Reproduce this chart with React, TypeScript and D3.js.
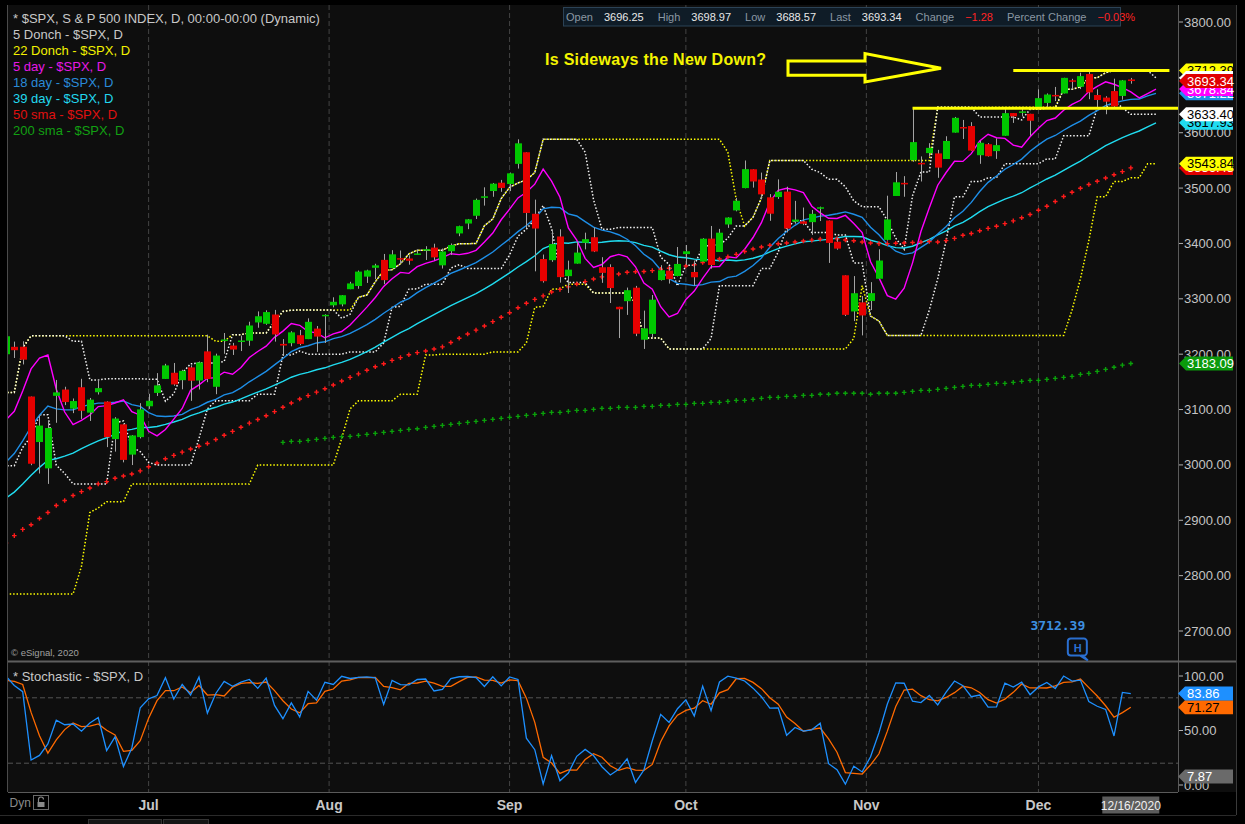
import { useEffect } from "react";
import * as d3 from "d3";

type Bar = [string, number, number, number, number];

// S&P 500 daily bars: date, open, high, low, close
const spxDaily: Bar[] = [
  ["2020-05-06", 2883.14, 2891.11, 2847.65, 2848.42],
  ["2020-05-07", 2878.26, 2901.92, 2876.48, 2881.19],
  ["2020-05-08", 2908.83, 2932.16, 2902.88, 2929.8],
  ["2020-05-11", 2915.46, 2944.25, 2903.44, 2930.19],
  ["2020-05-12", 2939.5, 2945.82, 2869.59, 2870.12],
  ["2020-05-13", 2865.86, 2874.14, 2793.15, 2820.0],
  ["2020-05-14", 2794.54, 2852.8, 2766.64, 2852.5],
  ["2020-05-15", 2829.95, 2865.01, 2816.78, 2863.7],
  ["2020-05-18", 2913.86, 2968.09, 2913.86, 2953.91],
  ["2020-05-19", 2948.59, 2964.21, 2922.35, 2922.94],
  ["2020-05-20", 2953.63, 2980.29, 2953.63, 2971.61],
  ["2020-05-21", 2969.95, 2978.5, 2938.57, 2948.51],
  ["2020-05-22", 2948.05, 2956.76, 2933.59, 2955.45],
  ["2020-05-26", 3004.08, 3021.72, 2988.17, 2991.77],
  ["2020-05-27", 3015.65, 3036.25, 2969.75, 3036.13],
  ["2020-05-28", 3046.61, 3068.67, 3023.4, 3029.73],
  ["2020-05-29", 3025.17, 3049.17, 2998.61, 3044.31],
  ["2020-06-01", 3031.68, 3062.18, 3031.54, 3055.73],
  ["2020-06-02", 3064.78, 3081.07, 3051.64, 3080.82],
  ["2020-06-03", 3098.9, 3130.94, 3098.9, 3122.87],
  ["2020-06-04", 3111.56, 3128.91, 3090.41, 3112.35],
  ["2020-06-05", 3163.84, 3211.72, 3163.84, 3193.93],
  ["2020-06-08", 3199.92, 3233.13, 3196.0, 3232.39],
  ["2020-06-09", 3213.32, 3222.71, 3193.11, 3207.18],
  ["2020-06-10", 3213.42, 3223.27, 3181.49, 3190.14],
  ["2020-06-11", 3123.53, 3123.53, 2999.49, 3002.1],
  ["2020-06-12", 3071.04, 3088.42, 2984.47, 3041.31],
  ["2020-06-15", 2993.76, 3079.76, 2965.66, 3066.59],
  ["2020-06-16", 3131.0, 3153.45, 3076.06, 3124.74],
  ["2020-06-17", 3136.13, 3141.16, 3108.03, 3113.49],
  ["2020-06-18", 3101.64, 3120.0, 3093.51, 3115.34],
  ["2020-06-19", 3140.29, 3155.53, 3083.11, 3097.74],
  ["2020-06-22", 3094.42, 3120.92, 3079.39, 3117.86],
  ["2020-06-23", 3138.7, 3154.9, 3127.12, 3131.29],
  ["2020-06-24", 3114.4, 3115.01, 3032.13, 3050.33],
  ["2020-06-25", 3046.6, 3086.25, 3024.01, 3083.76],
  ["2020-06-26", 3073.2, 3073.73, 3004.63, 3009.05],
  ["2020-06-29", 3018.59, 3053.89, 2999.74, 3053.24],
  ["2020-06-30", 3050.2, 3111.51, 3047.83, 3100.29],
  ["2020-07-01", 3105.92, 3128.44, 3101.17, 3115.86],
  ["2020-07-02", 3143.64, 3165.81, 3124.52, 3130.01],
  ["2020-07-06", 3155.29, 3182.59, 3155.29, 3179.72],
  ["2020-07-07", 3166.44, 3184.15, 3142.93, 3145.32],
  ["2020-07-08", 3153.07, 3171.8, 3136.53, 3169.94],
  ["2020-07-09", 3176.17, 3179.78, 3115.7, 3152.05],
  ["2020-07-10", 3152.47, 3186.82, 3136.22, 3185.04],
  ["2020-07-13", 3205.08, 3235.32, 3149.43, 3155.22],
  ["2020-07-14", 3141.11, 3200.95, 3127.66, 3197.52],
  ["2020-07-15", 3225.98, 3238.28, 3200.76, 3226.56],
  ["2020-07-16", 3208.36, 3220.39, 3198.59, 3215.57],
  ["2020-07-17", 3224.21, 3233.52, 3205.65, 3224.73],
  ["2020-07-20", 3224.29, 3258.61, 3215.16, 3251.84],
  ["2020-07-21", 3268.52, 3277.29, 3247.77, 3257.3],
  ["2020-07-22", 3254.86, 3279.32, 3253.1, 3276.02],
  ["2020-07-23", 3271.64, 3279.99, 3222.66, 3235.66],
  ["2020-07-24", 3218.58, 3227.26, 3200.05, 3215.63],
  ["2020-07-27", 3219.84, 3241.43, 3214.25, 3239.41],
  ["2020-07-28", 3234.27, 3243.72, 3216.17, 3218.44],
  ["2020-07-29", 3227.22, 3264.74, 3227.22, 3258.44],
  ["2020-07-30", 3231.76, 3250.92, 3204.13, 3246.22],
  ["2020-07-31", 3270.45, 3272.17, 3220.26, 3271.12],
  ["2020-08-03", 3288.26, 3302.73, 3284.53, 3294.61],
  ["2020-08-04", 3289.92, 3306.84, 3286.37, 3306.51],
  ["2020-08-05", 3317.37, 3330.77, 3317.37, 3327.77],
  ["2020-08-06", 3323.17, 3351.03, 3318.14, 3349.16],
  ["2020-08-07", 3340.05, 3352.54, 3328.72, 3351.28],
  ["2020-08-10", 3356.04, 3363.29, 3335.44, 3360.47],
  ["2020-08-11", 3370.34, 3381.01, 3326.44, 3333.69],
  ["2020-08-12", 3355.46, 3387.89, 3355.46, 3380.35],
  ["2020-08-13", 3372.95, 3387.24, 3363.35, 3373.43],
  ["2020-08-14", 3368.66, 3378.51, 3361.64, 3372.85],
  ["2020-08-17", 3380.86, 3387.59, 3379.22, 3381.99],
  ["2020-08-18", 3387.04, 3395.06, 3370.15, 3389.78],
  ["2020-08-19", 3392.51, 3399.54, 3369.66, 3374.85],
  ["2020-08-20", 3360.48, 3390.8, 3354.69, 3385.51],
  ["2020-08-21", 3386.01, 3399.96, 3379.31, 3397.16],
  ["2020-08-24", 3418.09, 3432.09, 3413.13, 3431.28],
  ["2020-08-25", 3435.95, 3444.21, 3425.84, 3443.62],
  ["2020-08-26", 3449.97, 3481.07, 3444.15, 3478.73],
  ["2020-08-27", 3485.14, 3501.38, 3468.35, 3484.55],
  ["2020-08-28", 3494.69, 3509.23, 3484.32, 3508.01],
  ["2020-08-31", 3509.73, 3514.77, 3493.25, 3500.31],
  ["2020-09-01", 3507.44, 3528.03, 3494.6, 3526.65],
  ["2020-09-02", 3543.76, 3588.11, 3535.23, 3580.84],
  ["2020-09-03", 3564.74, 3564.85, 3427.41, 3455.06],
  ["2020-09-04", 3453.6, 3479.15, 3349.63, 3426.96],
  ["2020-09-08", 3371.88, 3379.97, 3329.27, 3331.84],
  ["2020-09-09", 3369.82, 3424.77, 3366.84, 3398.96],
  ["2020-09-10", 3412.56, 3425.55, 3329.25, 3339.19],
  ["2020-09-11", 3352.7, 3368.95, 3310.47, 3340.97],
  ["2020-09-14", 3363.56, 3402.93, 3363.56, 3383.54],
  ["2020-09-15", 3407.73, 3419.48, 3389.25, 3401.2],
  ["2020-09-16", 3411.23, 3428.92, 3384.45, 3385.49],
  ["2020-09-17", 3346.86, 3375.17, 3328.82, 3357.01],
  ["2020-09-18", 3357.38, 3362.27, 3292.4, 3319.47],
  ["2020-09-21", 3285.57, 3285.57, 3229.1, 3281.06],
  ["2020-09-22", 3295.75, 3320.31, 3270.95, 3315.57],
  ["2020-09-23", 3320.11, 3323.35, 3232.57, 3236.92],
  ["2020-09-24", 3226.14, 3278.7, 3209.45, 3246.59],
  ["2020-09-25", 3236.66, 3306.88, 3228.44, 3298.46],
  ["2020-09-28", 3333.9, 3360.74, 3332.91, 3351.6],
  ["2020-09-29", 3350.92, 3357.92, 3327.54, 3335.47],
  ["2020-09-30", 3341.21, 3393.56, 3340.47, 3363.0],
  ["2020-10-01", 3385.87, 3397.18, 3361.39, 3380.8],
  ["2020-10-02", 3338.94, 3369.1, 3323.69, 3348.42],
  ["2020-10-05", 3367.27, 3409.57, 3367.27, 3408.6],
  ["2020-10-06", 3408.74, 3431.56, 3354.54, 3360.97],
  ["2020-10-07", 3384.56, 3426.26, 3384.56, 3419.44],
  ["2020-10-08", 3434.28, 3447.28, 3428.15, 3446.83],
  ["2020-10-09", 3459.67, 3482.34, 3458.07, 3477.14],
  ["2020-10-12", 3500.02, 3549.85, 3499.61, 3534.22],
  ["2020-10-13", 3534.01, 3534.01, 3500.86, 3511.93],
  ["2020-10-14", 3515.47, 3527.94, 3480.55, 3488.67],
  ["2020-10-15", 3453.72, 3489.08, 3440.89, 3483.34],
  ["2020-10-16", 3493.5, 3515.76, 3480.45, 3483.81],
  ["2020-10-19", 3493.66, 3502.42, 3419.93, 3426.92],
  ["2020-10-20", 3439.38, 3476.93, 3435.65, 3443.12],
  ["2020-10-21", 3439.91, 3464.86, 3433.06, 3435.56],
  ["2020-10-22", 3438.5, 3460.53, 3415.34, 3453.49],
  ["2020-10-23", 3464.9, 3466.46, 3440.45, 3465.39],
  ["2020-10-26", 3441.42, 3441.42, 3364.86, 3400.97],
  ["2020-10-27", 3403.15, 3409.51, 3388.71, 3390.68],
  ["2020-10-28", 3342.48, 3342.48, 3268.89, 3271.03],
  ["2020-10-29", 3277.17, 3341.05, 3259.82, 3310.11],
  ["2020-10-30", 3293.59, 3304.93, 3233.94, 3269.96],
  ["2020-11-02", 3296.2, 3330.14, 3279.74, 3310.24],
  ["2020-11-03", 3336.25, 3389.49, 3336.25, 3369.16],
  ["2020-11-04", 3406.46, 3486.25, 3405.17, 3443.44],
  ["2020-11-05", 3485.74, 3529.05, 3485.74, 3510.45],
  ["2020-11-06", 3508.34, 3521.58, 3484.34, 3509.44],
  ["2020-11-09", 3583.04, 3645.99, 3547.48, 3550.5],
  ["2020-11-10", 3543.26, 3557.22, 3511.91, 3545.53],
  ["2020-11-11", 3563.22, 3581.16, 3557.0, 3572.66],
  ["2020-11-12", 3562.67, 3569.02, 3518.58, 3537.01],
  ["2020-11-13", 3552.57, 3593.66, 3552.57, 3585.15],
  ["2020-11-16", 3600.16, 3628.51, 3600.16, 3626.91],
  ["2020-11-17", 3610.31, 3623.11, 3588.68, 3609.53],
  ["2020-11-18", 3612.09, 3619.09, 3567.33, 3567.79],
  ["2020-11-19", 3559.41, 3585.22, 3543.84, 3581.87],
  ["2020-11-20", 3579.31, 3581.23, 3556.85, 3557.54],
  ["2020-11-23", 3566.82, 3589.81, 3552.77, 3577.59],
  ["2020-11-24", 3594.52, 3642.31, 3594.52, 3635.41],
  ["2020-11-25", 3635.5, 3635.5, 3617.76, 3629.65],
  ["2020-11-27", 3638.55, 3644.31, 3629.33, 3638.35],
  ["2020-11-30", 3634.18, 3634.18, 3594.39, 3621.63],
  ["2020-12-01", 3645.87, 3678.45, 3645.87, 3662.45],
  ["2020-12-02", 3653.78, 3670.96, 3644.84, 3669.01],
  ["2020-12-03", 3668.28, 3682.73, 3657.17, 3666.72],
  ["2020-12-04", 3670.94, 3699.2, 3670.94, 3699.12],
  ["2020-12-07", 3694.73, 3697.41, 3678.88, 3691.96],
  ["2020-12-08", 3683.05, 3708.45, 3678.83, 3702.25],
  ["2020-12-09", 3705.98, 3712.39, 3660.54, 3672.82],
  ["2020-12-10", 3659.13, 3678.49, 3645.18, 3668.1],
  ["2020-12-11", 3656.08, 3665.91, 3633.4, 3663.46],
  ["2020-12-14", 3675.27, 3697.61, 3645.84, 3647.49],
  ["2020-12-15", 3666.41, 3695.29, 3659.62, 3694.62],
  ["2020-12-16", 3696.25, 3698.97, 3688.57, 3693.34],
];

// closes from 2 Mar to 5 May 2020, only to warm up the averages
const warmupCloses = [
  3090.23, 3003.37, 3130.12, 3023.94, 2972.37, 2746.56, 2882.23, 2741.38, 2480.64, 2711.02,
  2386.13, 2529.19, 2398.1, 2409.39, 2304.92, 2237.4, 2447.33, 2475.56, 2630.07, 2541.47,
  2626.65, 2584.59, 2470.5, 2526.9, 2488.65, 2663.68, 2659.41, 2749.98, 2789.82, 2761.63,
  2846.06, 2783.36, 2799.55, 2874.56, 2823.16, 2736.56, 2799.31, 2797.8, 2836.74, 2878.48,
  2863.39, 2939.51, 2912.43, 2830.71, 2842.74, 2868.44,
];

// 200 sma as plotted, one value per bar from 24 Jul 2020
const sma200From = "2020-07-24";
const sma200 = [
  3040.7, 3042.5, 3042.5, 3044.3, 3046.1, 3048.0, 3049.8, 3051.0, 3051.6, 3053.4,
  3055.2, 3057.0, 3058.8, 3060.6, 3062.4, 3064.2, 3065.4, 3067.8, 3069.6, 3071.4,
  3073.2, 3075.1, 3076.9, 3078.7, 3080.5, 3082.3, 3084.1, 3085.9, 3087.7, 3089.5,
  3091.3, 3093.1, 3094.9, 3094.9, 3096.7, 3098.5, 3098.5, 3100.3, 3102.1, 3102.1,
  3104.0, 3104.0, 3104.0, 3105.8, 3105.8, 3107.6, 3107.6, 3109.4, 3109.4, 3111.2,
  3111.2, 3113.0, 3113.0, 3114.8, 3116.6, 3116.6, 3118.4, 3120.2, 3122.0, 3122.0,
  3123.8, 3123.8, 3125.6, 3125.6, 3127.5, 3127.5, 3129.3, 3129.3, 3129.3, 3129.3,
  3127.5, 3129.3, 3129.3, 3129.3, 3131.1, 3132.9, 3134.7, 3134.7, 3136.5, 3138.3,
  3140.1, 3141.9, 3143.7, 3143.7, 3145.5, 3147.3, 3147.3, 3149.1, 3150.9, 3152.7,
  3152.7, 3154.5, 3156.3, 3158.1, 3159.9, 3163.6, 3165.4, 3169.0, 3172.6, 3176.3,
  3180.2, 3183.09,
];

const monthTicks: [string, string][] = [
  ["2020-07-01", "Jul"],
  ["2020-08-01", "Aug"],
  ["2020-09-01", "Sep"],
  ["2020-10-01", "Oct"],
  ["2020-11-01", "Nov"],
  ["2020-12-01", "Dec"],
];
const priceTicks = [3800, 3700, 3600, 3500, 3400, 3300, 3200, 3100, 3000, 2900, 2800, 2700];
const stochTicks = [100, 50, 0];
const stochBands = [80, 20];
const stochMarker = 7.87;

// hand drawn range lines
const rangeTop = 3712.39;
const rangeTopFrom = "2020-11-25";
const rangeLow = 3644;
const rangeLowFrom = "2020-11-09";

const legend: [string, string][] = [
  ["* $SPX, S & P 500 INDEX, D, 00:00-00:00 (Dynamic)", "#c8c8c8"],
  ["5 Donch - $SPX, D", "#c8c8c8"],
  ["22 Donch - $SPX, D", "#f2f200"],
  ["5 day - $SPX, D", "#e619e6"],
  ["18 day - $SPX, D", "#2a8ad8"],
  ["39 day - $SPX, D", "#22d8ee"],
  ["50 sma - $SPX, D", "#e01010"],
  ["200 sma - $SPX, D", "#12a012"],
];

const FONT = "'Liberation Sans', Arial, Helvetica, sans-serif";
const SHIFT = 3;

// linearly weighted moving average
const wma = (vals: number[], n: number) =>
  vals.map((_, i) => {
    let s = 0;
    let w = 0;
    for (let k = 0; k < n && i - k >= 0; k++) {
      s += vals[i - k] * (n - k);
      w += n - k;
    }
    return s / w;
  });

export default function App() {
  useEffect(() => {
    document.body.style.margin = "0";
    document.body.style.background = "#000";
  }, []);

  const nWarm = warmupCloses.length;
  const closes = [...warmupCloses, ...spxDaily.map((d) => d[4])];
  const highs = spxDaily.map((d) => d[2]);
  const lows = spxDaily.map((d) => d[3]);
  const ma5 = wma(closes, 5).slice(nWarm);
  const ma18 = wma(closes, 18).slice(nWarm);
  const ma39 = wma(closes, 39).slice(nWarm);
  const sma50 = spxDaily.map((_, i) => d3.mean(closes.slice(i + nWarm - 49, i + nWarm + 1)) as number);
  const donch = (n: number) =>
    spxDaily.map((_, i) => {
      const a = Math.max(0, i - n + 1);
      return { hi: d3.max(highs.slice(a, i + 1)) as number, lo: d3.min(lows.slice(a, i + 1)) as number };
    });
  const d5 = donch(5);
  const d22 = donch(22);
  const k14 = spxDaily.map((d, i) => {
    const a = Math.max(0, i - 13);
    const hh = d3.max(highs.slice(a, i + 1)) as number;
    const ll = d3.min(lows.slice(a, i + 1)) as number;
    return ((d[4] - ll) / (hh - ll)) * 100;
  });
  const dSlow = k14.map((_, i) => d3.mean(k14.slice(Math.max(0, i - 2), i + 1)) as number);

  const idx = (date: string) => spxDaily.findIndex((d) => d[0] >= date);
  const iStart = idx("2020-06-09");
  const iLast = spxDaily.length - 1;
  const i200 = idx(sma200From);

  const x = d3.scaleLinear().domain([iStart, iLast]).range([14.3, 1130.8]);
  const yP = d3.scaleLinear().domain([2700, 3800]).range([631, 22]);
  const yS = d3.scaleLinear().domain([0, 100]).range([785, 676]);

  const from = iStart - 8;
  const shifted = (vals: number[]) =>
    d3
      .line<number>()
      .x((_, j) => x(from + j + SHIFT))
      .y((v) => yP(v))(vals.slice(from)) as string;
  const plain = (vals: number[], y: d3.ScaleLinear<number, number>) =>
    d3
      .line<number>()
      .x((_, j) => x(from + j))
      .y((v) => y(v))(vals.slice(from)) as string;

  const crosses = (pts: [number, number][]) =>
    pts.map(([px, py]) => `M${px - 2.3},${py}h4.6M${px},${py - 2.3}v4.6`).join("");
  const sma50Pts: [number, number][] = sma50.slice(from).map((v, j) => [x(from + j), yP(v)]);
  const sma200Pts: [number, number][] = sma200.map((v, j) => [x(i200 + j), yP(v)]);

  const fmt = d3.format(".2f");
  const signed = (v: number) => (v < 0 ? "\u2212" : "") + fmt(Math.abs(v));
  const last = spxDaily[iLast];
  const prevClose = spxDaily[iLast - 1][4];
  const change = last[4] - prevClose;
  const quote: [string, string, boolean][] = [
    ["Open", fmt(last[1]), false],
    ["High", fmt(last[2]), false],
    ["Low", fmt(last[3]), false],
    ["Last", fmt(last[4]), false],
    ["Change", signed(change), true],
    ["Percent Change", signed((change / prevClose) * 100) + "%", true],
  ];

  const monthPos = monthTicks.map(([date, label]) => {
    const i = idx(date);
    return { label, pos: spxDaily[i][0] === date ? i : i - 0.5 };
  });

  const hiIdx = d3.maxIndex(highs.slice(iLast - 21)) + iLast - 21;
  const hx = x(hiIdx);

  const priceFlags = [
    { v: sma200[sma200.length - 1], fill: "#0b9a0b", ink: "#fff" },
    { v: sma50[iLast], fill: "#e00000", ink: "#fff" },
    { v: d22[iLast].lo, fill: "#ffff00", ink: "#000" },
    { v: ma39[iLast], fill: "#20dcf0", ink: "#000" },
    { v: d5[iLast].lo, fill: "#ffffff", ink: "#000" },
    { v: d22[iLast].hi, fill: "#ffff00", ink: "#000" },
    { v: d5[iLast].hi, fill: "#ffffff", ink: "#000" },
    { v: ma18[iLast], fill: "#1e8fe8", ink: "#fff" },
    { v: ma5[iLast], fill: "#ff00ff", ink: "#fff" },
    { v: last[4], fill: "#e00000", ink: "#fff" },
  ];
  const stochFlags = [
    { v: stochMarker, fill: "#6a6a6a", ink: "#fff" },
    { v: dSlow[iLast], fill: "#ff6a00", ink: "#000" },
    { v: k14[iLast], fill: "#1e90ff", ink: "#fff" },
  ];
  const flag = (cy: number, label: string, fill: string, ink: string, key: string, x0 = 1179) => (
    <g key={key}>
      <path d={`M${x0},${cy}L${x0 + 7},${cy - 7}H1233V${cy + 7}H${x0 + 7}Z`} fill={fill} />
      <text x={1187} y={cy + 4.6} fontSize={13} fill={ink} fontFamily={FONT}>
        {label}
      </text>
    </g>
  );

  const dotted = { fill: "none", strokeWidth: 1.5, strokeDasharray: "1.5 1.9" };

  return (
    <svg width={1245} height={824} style={{ position: "absolute", left: 0, top: 0, display: "block" }}>
      <defs>
        <clipPath id="pc">
          <rect x={8} y={5} width={1170} height={656} />
        </clipPath>
        <clipPath id="sc">
          <rect x={8} y={663} width={1170} height={129} />
        </clipPath>
      </defs>
      <rect width={1245} height={824} fill="#000" />
      <rect x={8} y={5} width={1228} height={656} fill="#0e0e0e" />
      <rect x={8} y={662} width={1228} height={130} fill="#0e0e0e" />

      {/* month grid */}
      {monthPos.map((m) => (
        <line key={m.label} x1={x(m.pos)} x2={x(m.pos)} y1={5} y2={792} stroke="#444" strokeDasharray="5 3" />
      ))}
      {stochBands.map((b) => (
        <line key={b} x1={8} x2={1178} y1={yS(b)} y2={yS(b)} stroke="#555" strokeDasharray="5 3" />
      ))}

      {/* frame lines */}
      <line x1={7.5} x2={7.5} y1={5} y2={792} stroke="#4a4a4a" />
      <line x1={1178.5} x2={1178.5} y1={5} y2={792} stroke="#5a5a5a" />
      <line x1={1236.5} x2={1236.5} y1={5} y2={815} stroke="#3a3a3a" />
      <line x1={8} x2={1236} y1={661.5} y2={661.5} stroke="#5e5e5e" strokeWidth={2} />
      <line x1={8} x2={1178} y1={792.5} y2={792.5} stroke="#5a5a5a" />
      <line x1={0} x2={1236} y1={815.5} y2={815.5} stroke="#2a2a2a" />

      {/* price panel */}
      <g clipPath="url(#pc)">
        <path d={shifted(d22.map((d) => d.hi))} stroke="#ffff00" {...dotted} />
        <path d={shifted(d22.map((d) => d.lo))} stroke="#ffff00" {...dotted} />
        <path d={shifted(d5.map((d) => d.hi))} stroke="#f4f4f4" {...dotted} />
        <path d={shifted(d5.map((d) => d.lo))} stroke="#f4f4f4" {...dotted} />
        <path d={shifted(ma39)} stroke="#20dcf0" strokeWidth={1.4} fill="none" />
        <path d={shifted(ma18)} stroke="#1e8fe8" strokeWidth={1.4} fill="none" />
        <path d={shifted(ma5)} stroke="#ff00ff" strokeWidth={1.4} fill="none" />
        <path d={crosses(sma50Pts)} stroke="#ff1a1a" strokeWidth={1.4} />
        <path d={crosses(sma200Pts)} stroke="#0aa00a" strokeWidth={1.4} />

        {spxDaily.slice(iStart - 1).map((d, j) => {
          const i = iStart - 1 + j;
          const cx = Math.round(x(i));
          const up = d[4] >= spxDaily[i - 1][4];
          const top = yP(Math.max(d[1], d[4]));
          const h = Math.max(1.5, yP(Math.min(d[1], d[4])) - top);
          return (
            <g key={d[0]}>
              <line x1={cx + 0.5} x2={cx + 0.5} y1={yP(d[2])} y2={yP(d[3])} stroke="#a4a4a4" />
              <rect x={cx - 3} y={top} width={7} height={h} fill={up ? "#00c800" : "#e60000"} />
            </g>
          );
        })}

        <line x1={x(idx(rangeTopFrom))} x2={x(iLast + 4.6)} y1={yP(rangeTop)} y2={yP(rangeTop)} stroke="#ffff00" strokeWidth={3} />
        <line x1={x(idx(rangeLowFrom))} x2={1178} y1={yP(rangeLow)} y2={yP(rangeLow)} stroke="#ffff00" strokeWidth={3} />
      </g>

      {/* stochastic panel */}
      <g clipPath="url(#sc)">
        <path d={plain(dSlow, yS)} stroke="#ff6a00" strokeWidth={1.3} fill="none" />
        <path d={plain(k14, yS)} stroke="#1e90ff" strokeWidth={1.3} fill="none" />
      </g>

      {/* legend */}
      {legend.map(([t, c], j) => (
        <text key={t} x={13} y={23 + j * 16} fontSize={13} fill={c} fontFamily={FONT}>
          {t}
        </text>
      ))}
      <text x={13} y={681} fontSize={13} fill="#c8c8c8" fontFamily={FONT}>
        * Stochastic - $SPX, D
      </text>
      <text x={11} y={656} fontSize={9.5} fill="#a0a0a0" fontFamily={FONT}>
        © eSignal, 2020
      </text>

      {/* quote strip */}
      <rect x={563.5} y={7.5} width={557} height={18.5} fill="#0f1c27" stroke="#2b4256" />
      <text x={566} y={20.5} fontSize={11} fontFamily={FONT}>
        {quote.map(([k, v, neg], j) => (
          <tspan key={k}>
            <tspan dx={j === 0 ? 0 : 14} fill="#8b98a3">
              {k}
            </tspan>
            <tspan dx={11} fill={neg ? "#ff2424" : "#e8e8e8"}>
              {v}
            </tspan>
          </tspan>
        ))}
      </text>

      {/* annotation */}
      <text x={545} y={65} fontSize={16} fontWeight="bold" fill="#f4f400" fontFamily={FONT} textLength={221} lengthAdjust="spacing">
        Is Sideways the New Down?
      </text>
      <path d="M788,61H865V53.5L941,68.3L865,82V75.3H788Z" fill="none" stroke="#ffff00" strokeWidth={3} />

      {/* high marker */}
      <text x={hx - 31} y={630} textAnchor="middle" fontSize={13} fontWeight="bold" fill="#3d8ee0" fontFamily="'DejaVu Sans Mono', monospace">
        {fmt(highs[hiIdx])}
      </text>
      <path
        d={`M${hx - 18},638.5h13a3,3 0 0 1 3,3v11a3,3 0 0 1 -3,3h-1l5,5l-8,-5h-9a3,3 0 0 1 -3,-3v-11a3,3 0 0 1 3,-3z`}
        fill="none"
        stroke="#2a6fd0"
        strokeWidth={2}
      />
      <text x={hx - 11} y={651.5} textAnchor="middle" fontSize={11} fontWeight="bold" fill="#2a6fd0" fontFamily={FONT}>
        H
      </text>

      {/* price axis */}
      {priceTicks.map((t) => (
        <g key={t}>
          <line x1={1179} x2={1183} y1={yP(t)} y2={yP(t)} stroke="#b0b0b0" />
          <text x={1184} y={yP(t) + 4.5} fontSize={13} fill="#c4c4c4" fontFamily={FONT}>
            {fmt(t)}
          </text>
        </g>
      ))}
      {stochTicks.map((t) => (
        <g key={t}>
          <line x1={1179} x2={1183} y1={yS(t)} y2={yS(t)} stroke="#b0b0b0" />
          <text x={1184} y={yS(t) + 4.5} fontSize={13} fill="#c4c4c4" fontFamily={FONT}>
            {fmt(t)}
          </text>
        </g>
      ))}
      {priceFlags.map((f, j) => flag(yP(f.v), fmt(f.v), f.fill, f.ink, "p" + j))}
      {stochFlags.map((f, j) => flag(yS(f.v), fmt(f.v), f.fill, f.ink, "s" + j, 1178))}

      {/* time axis */}
      {monthPos.map((m) => (
        <text key={m.label} x={x(m.pos)} y={810} textAnchor="middle" fontSize={14} fontWeight="bold" fill="#c8c8c8" fontFamily={FONT}>
          {m.label}
        </text>
      ))}
      <rect x={x(iLast) - 28.5} y={796.5} width={57} height={17} fill="#5c5c5c" />
      <text x={x(iLast)} y={809.5} textAnchor="middle" fontSize={12} fill="#f0f0f0" fontFamily={FONT}>
        {d3.timeFormat("%m/%d/%Y")(d3.timeParse("%Y-%m-%d")(last[0]) as Date)}
      </text>
      <text x={9.5} y={807} fontSize={12} fill="#8a8a8a" fontFamily={FONT}>
        Dyn
      </text>
      <rect x={33.5} y={795.5} width={15} height={14} fill="none" stroke="#6a6a6a" />
      <path d="M38.5,802v-2.5a2.5,2.5 0 0 1 5,0" fill="none" stroke="#8a8a8a" strokeWidth={1.2} />
      <rect x={37.5} y={802} width={7} height={5} fill="#8a8a8a" />
      <rect x={88.5} y={819.5} width={73} height={8} fill="#151515" stroke="#333" />
      <rect x={163.5} y={819.5} width={45} height={8} fill="#151515" stroke="#333" />
    </svg>
  );
}
